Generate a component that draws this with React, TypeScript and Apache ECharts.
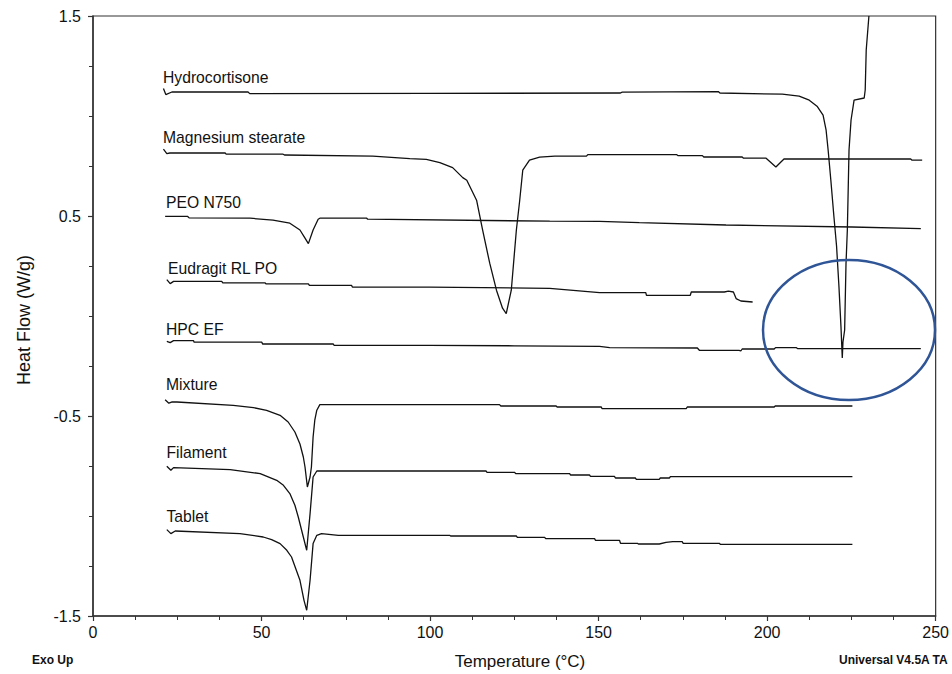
import React, { useEffect, useRef } from "react";
import * as echarts from "echarts";

type P = [number, number];

const seriesNames = [
  "Hydrocortisone",
  "Magnesium stearate",
  "PEO N750",
  "Eudragit RL PO",
  "HPC EF",
  "Mixture",
  "Filament",
  "Tablet",
];

const hydrocortisone: P[] = [
  [20.9, 1.137], [21.6, 1.107], [23.4, 1.12], [46, 1.12], [46.5, 1.112], [100, 1.113],
  [156.5, 1.115], [157, 1.119], [185.5, 1.122], [186, 1.115], [204.5, 1.109], [209.5, 1.099],
  [212.5, 1.079], [214.8, 1.049], [216.6, 1.004], [217.5, 0.929], [218.1, 0.83], [218.9, 0.68],
  [219.8, 0.5], [220.6, 0.35], [221.3, 0.15], [221.9, -0.05], [222.3, -0.21], [222.5, -0.13],
  [223, -0.07], [223.4, 0.26], [223.8, 0.43], [224.3, 0.83], [224.9, 0.98], [225.8, 1.079],
  [228.8, 1.09], [229.1, 1.13], [229.4, 1.33], [230.2, 1.5],
];

const magnesiumStearate: P[] = [
  [20.9, 0.834], [21.9, 0.812], [22.8, 0.815], [39.2, 0.815], [39.5, 0.809], [56.4, 0.809],
  [56.8, 0.805], [83, 0.799], [94, 0.787], [98.9, 0.783], [102.9, 0.767], [106.7, 0.742],
  [109.7, 0.692], [110.9, 0.679], [113.8, 0.579], [115.6, 0.429], [117.7, 0.264], [119.7, 0.129],
  [121.5, 0.039], [122.6, 0.012], [124.1, 0.129], [125.6, 0.429], [126.6, 0.579], [127.5, 0.729],
  [129.5, 0.779], [132.5, 0.794], [137, 0.799], [146.4, 0.799], [146.8, 0.807], [173.1, 0.807],
  [173.5, 0.802], [180.8, 0.802], [181.2, 0.795], [192.6, 0.795], [193, 0.789], [199.7, 0.789],
  [202.6, 0.745], [205, 0.785], [242.6, 0.785], [243, 0.779], [246, 0.779],
];

const peoN750: P[] = [
  [21.4, 0.4985], [28, 0.4985], [28.5, 0.491], [46.6, 0.489], [53.4, 0.479], [58.4, 0.464],
  [61.4, 0.43], [62.9, 0.389], [63.9, 0.362], [65.3, 0.43], [66.8, 0.484], [67.3, 0.489],
  [81.2, 0.489], [81.5, 0.484], [135.5, 0.474], [150.3, 0.4735], [162.1, 0.467], [187.8, 0.455],
  [225.2, 0.445], [245.6, 0.437],
];

const eudragit: P[] = [
  [21.9, 0.182], [22.9, 0.162], [23.9, 0.173], [38.2, 0.173], [38.5, 0.166], [51, 0.166],
  [51.3, 0.161], [63.9, 0.161], [64.2, 0.153], [76.7, 0.153], [77, 0.144], [99.9, 0.144],
  [135.5, 0.1385], [150.3, 0.117], [164, 0.117], [164.2, 0.1035], [177.2, 0.1035], [177.5, 0.12],
  [187.3, 0.12], [188.5, 0.124], [190, 0.12], [190.8, 0.087], [192.2, 0.075], [195.7, 0.07],
];

const hpcEF: P[] = [
  [21.9, -0.127], [22.9, -0.133], [23.9, -0.123], [29.8, -0.123], [30, -0.131], [50.1, -0.131],
  [50.3, -0.14], [71.3, -0.14], [71.5, -0.1465], [99.9, -0.1465], [125, -0.149], [150.3, -0.1515],
  [153.3, -0.158], [179.3, -0.16], [179.9, -0.1715], [191.7, -0.1715], [192.2, -0.175],
  [192.6, -0.165], [202.1, -0.165], [202.5, -0.158], [208.6, -0.158], [209, -0.163], [245.6, -0.163],
];

const mixture: P[] = [
  [21.4, -0.419], [22.5, -0.436], [23.5, -0.429], [24.9, -0.43], [41.6, -0.4465], [47.6, -0.458],
  [51.5, -0.4715], [55.5, -0.4965], [57.9, -0.53], [59.9, -0.58], [61.4, -0.64], [62.4, -0.705],
  [62.9, -0.755], [63.6, -0.855], [64.4, -0.805], [64.8, -0.755], [65.3, -0.605], [65.8, -0.521],
  [66.4, -0.471], [67.3, -0.443], [120.6, -0.443], [121, -0.45], [137.4, -0.45], [137.7, -0.455],
  [150.8, -0.455], [151, -0.463], [176, -0.463], [176.3, -0.455], [202.1, -0.455], [202.4, -0.45],
  [225.3, -0.45],
];

const filament: P[] = [
  [21.9, -0.7515], [23.1, -0.7715], [23.9, -0.758], [40.7, -0.768], [49.6, -0.788], [54.5, -0.8215],
  [56.5, -0.8465], [58.4, -0.888], [59.9, -0.9465], [60.9, -1.005], [62.4, -1.105], [63.4, -1.1715],
  [64.4, -0.988], [65.3, -0.805], [66.4, -0.775], [116.6, -0.775], [116.9, -0.7815], [125.1, -0.7815],
  [125.4, -0.788], [141.4, -0.788], [141.7, -0.795], [147.3, -0.795], [147.6, -0.8015],
  [154.7, -0.8015], [155, -0.81], [160.9, -0.81], [161.2, -0.8165], [168, -0.8165], [168.3, -0.81],
  [171, -0.81], [171.3, -0.803], [225.3, -0.803],
];

const tablet: P[] = [
  [21.9, -1.068], [23.1, -1.088], [24.4, -1.075], [43.6, -1.088], [50.5, -1.105], [53, -1.118],
  [55.5, -1.138], [57.5, -1.1715], [58.9, -1.205], [61.4, -1.3215], [62.6, -1.4215], [63.4, -1.4715],
  [64.4, -1.3215], [65.3, -1.138], [66.4, -1.0965], [67.8, -1.088], [72.8, -1.0965], [105.8, -1.0965],
  [106.1, -1.1], [125.6, -1.1], [125.9, -1.1065], [134, -1.1065], [134.3, -1.113], [148.8, -1.113],
  [149.1, -1.1215], [156.2, -1.1215], [156.5, -1.1365], [161.5, -1.1365], [161.8, -1.14], [168, -1.14],
  [170, -1.1315], [172, -1.128], [174.8, -1.128], [175.1, -1.1365], [185.8, -1.1365],
  [186.1, -1.1415], [225.3, -1.1415],
];

const seriesData: P[][] = [
  hydrocortisone, magnesiumStearate, peoN750, eudragit, hpcEF, mixture, filament, tablet,
];

const xTicks = { min: 0, max: 250, interval: 50 };
const yTicks = { min: -1.5, max: 1.5, interval: 1 };

const FONT = "'Liberation Sans', Arial, Helvetica, sans-serif";
const labelPos: [number, number][] = [
  [163, 77.5], [163, 137.5], [166, 202.5], [168, 268], [166, 329], [166, 384.5], [166.5, 452.5], [166.5, 516],
];

export default function App() {
  const ref = useRef<HTMLDivElement>(null);
  useEffect(() => {
    if (!ref.current) return;
    const chart = echarts.init(ref.current, null, { renderer: "svg" });
    const graphics: any[] = seriesNames.map((n, i) => ({
      type: "text",
      x: labelPos[i][0],
      y: labelPos[i][1],
      style: {
        text: n,
        fontSize: 15.7,
        fontFamily: FONT,
        fill: "#111",
        textAlign: "left",
        textVerticalAlign: "middle",
      },
    }));
    graphics.push(
      {
        type: "text",
        x: 520,
        y: 661,
        style: { text: "Temperature (°C)", fontSize: 17, fontFamily: FONT, fill: "#111", textAlign: "center", textVerticalAlign: "middle" },
      },
      {
        type: "text",
        x: 24,
        y: 320,
        rotation: Math.PI / 2,
        style: { text: "Heat Flow (W/g)", fontSize: 18, fontFamily: FONT, fill: "#111", textAlign: "center", textVerticalAlign: "middle" },
      },
      {
        type: "text",
        x: 32,
        y: 660,
        style: { text: "Exo Up", fontSize: 12, fontWeight: "bold", fontFamily: FONT, fill: "#111", textAlign: "left", textVerticalAlign: "middle" },
      },
      {
        type: "text",
        x: 839,
        y: 660,
        style: { text: "Universal V4.5A TA", fontSize: 12, fontWeight: "bold", fontFamily: FONT, fill: "#111", textAlign: "left", textVerticalAlign: "middle" },
      },
      {
        type: "ellipse",
        z: 100,
        shape: { cx: 849, cy: 330, rx: 86, ry: 70 },
        style: { fill: "none", stroke: "#2F5597", lineWidth: 2.5 },
      }
    );

    chart.setOption({
      animation: false,
      backgroundColor: "#ffffff",
      grid: {
        left: 93,
        right: 15,
        top: 16,
        bottom: 58,
        show: true,
        borderColor: "#333",
        borderWidth: 1.2,
        backgroundColor: "transparent",
      },
      xAxis: {
        type: "value",
        min: xTicks.min,
        max: xTicks.max,
        interval: xTicks.interval,
        axisLine: { show: true, onZero: false, lineStyle: { color: "#333", width: 1.5 } },
        axisTick: { show: true, length: 5, lineStyle: { color: "#333", width: 1.2 } },
        minorTick: { show: true, splitNumber: 4, length: 4, lineStyle: { color: "#333", width: 1 } },
        splitLine: { show: false },
        axisLabel: { fontSize: 16, fontFamily: FONT, color: "#111", margin: 8 },
      },
      yAxis: {
        type: "value",
        min: yTicks.min,
        max: yTicks.max,
        interval: yTicks.interval,
        axisLine: { show: true, onZero: false, lineStyle: { color: "#333", width: 1.5 } },
        axisTick: { show: true, length: 5, lineStyle: { color: "#333", width: 1.2 } },
        minorTick: { show: true, splitNumber: 4, length: 4, lineStyle: { color: "#333", width: 1 } },
        splitLine: { show: false },
        axisLabel: { fontSize: 16, fontFamily: FONT, color: "#111", margin: 12 },
      },
      series: seriesData.map((d, i) => ({
        name: seriesNames[i],
        type: "line",
        data: d,
        showSymbol: false,
        symbol: "none",
        clip: true,
        lineStyle: { color: "#111", width: 1.3 },
        silent: true,
      })),
      graphic: graphics,
    });
    return () => chart.dispose();
  }, []);
  return (
    <div
      ref={ref}
      style={{ position: "absolute", left: 0, top: 0, width: 952, height: 674, background: "#fff" }}
    />
  );
}
